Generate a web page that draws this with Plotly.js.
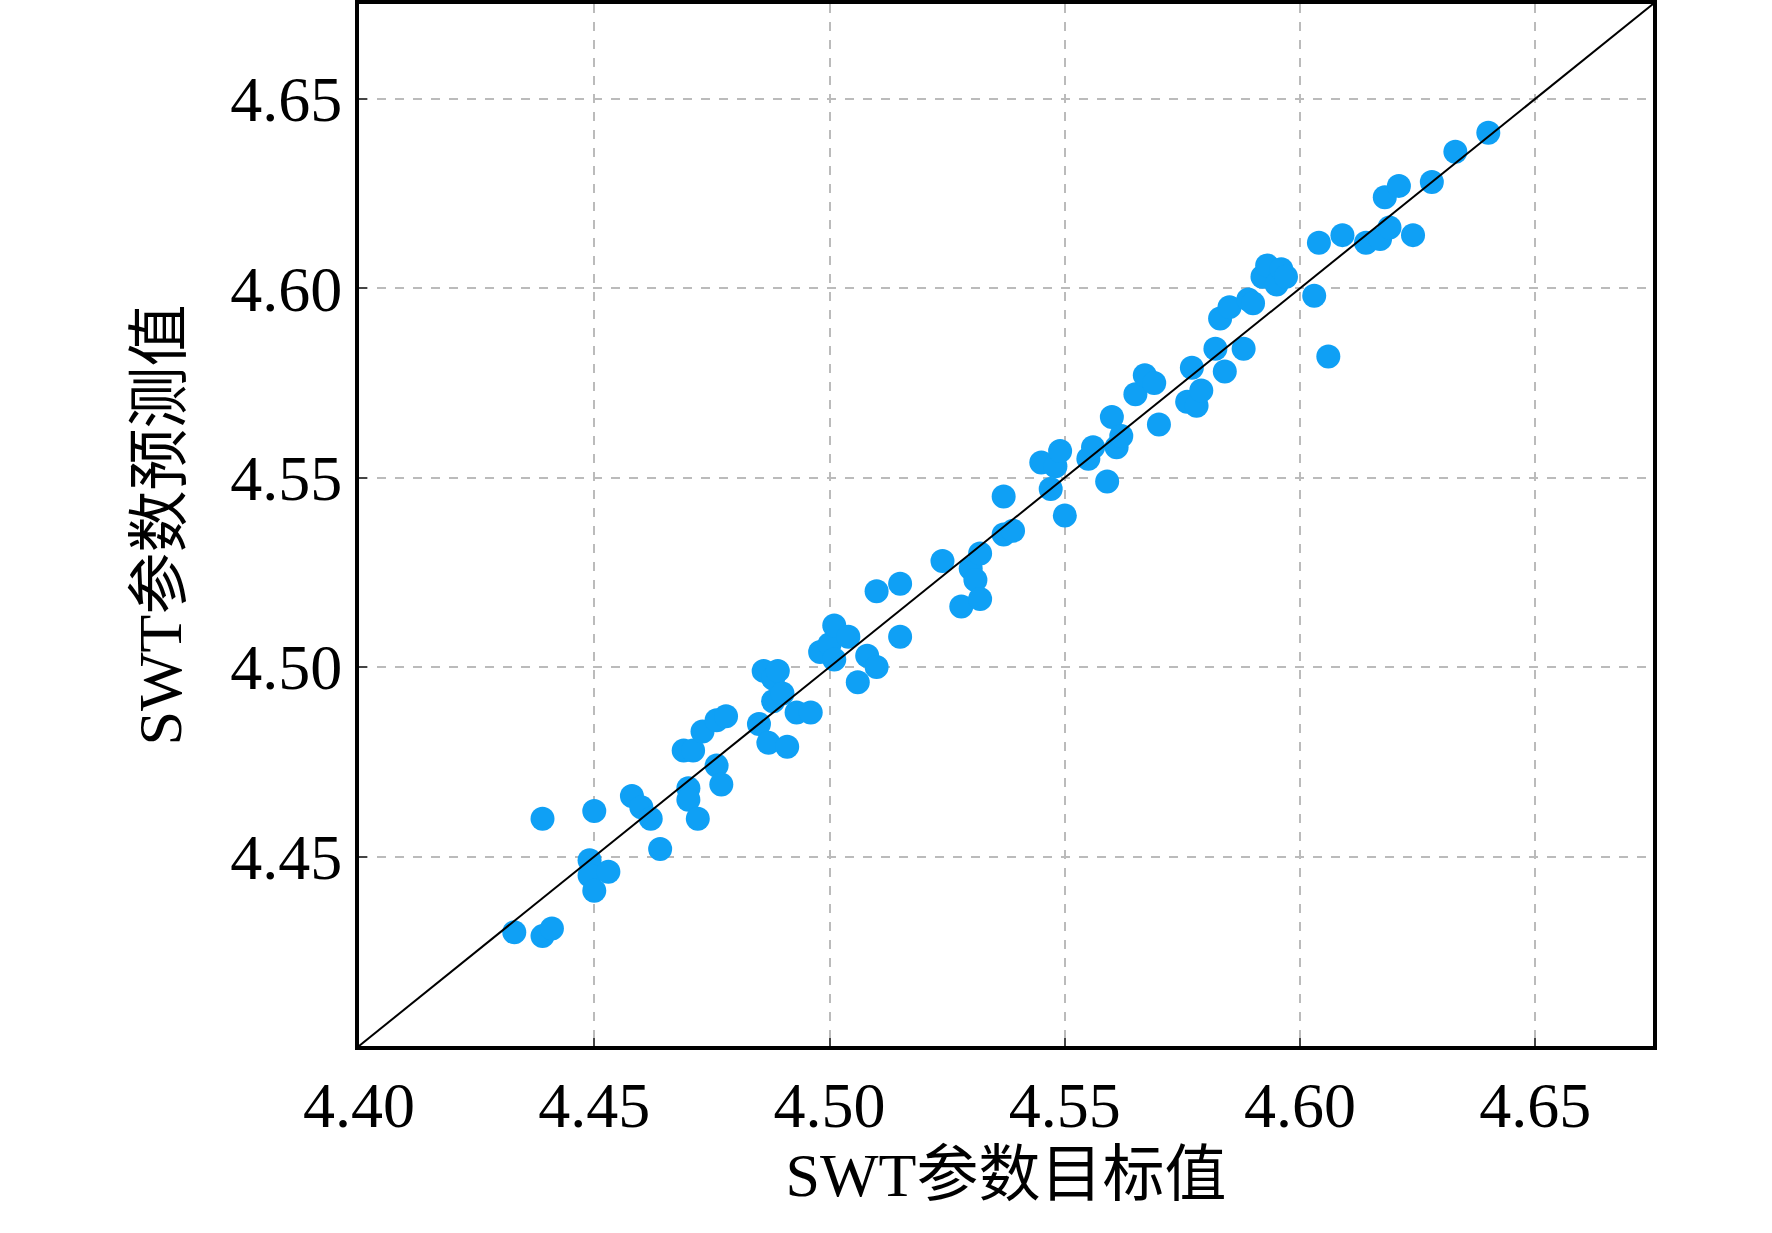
<!DOCTYPE html><html><head><meta charset="utf-8"><script src="https://cdn.plot.ly/plotly-3.0.1.min.js"></script></head><body style="margin:0"><div id="c" style="width:1772px;height:1233px"></div><script>
const xTarget=[4.433,4.439,4.441,4.439,4.450,4.449,4.449,4.450,4.453,4.458,4.460,4.462,4.464,4.469,4.471,4.470,4.470,4.472,4.473,4.476,4.477,4.476,4.478,4.485,4.486,4.488,4.489,4.487,4.491,4.488,4.490,4.493,4.496,4.498,4.500,4.501,4.501,4.504,4.506,4.508,4.510,4.510,4.515,4.515,4.524,4.528,4.530,4.531,4.532,4.532,4.537,4.537,4.539,4.545,4.547,4.548,4.549,4.550,4.555,4.556,4.559,4.560,4.561,4.562,4.565,4.567,4.569,4.570,4.576,4.577,4.578,4.579,4.582,4.583,4.584,4.585,4.588,4.589,4.590,4.592,4.593,4.595,4.596,4.597,4.603,4.604,4.606,4.609,4.614,4.617,4.618,4.619,4.621,4.624,4.628,4.633,4.640];
const yPred=[4.430,4.429,4.431,4.460,4.462,4.449,4.445,4.441,4.446,4.466,4.463,4.460,4.452,4.478,4.478,4.468,4.465,4.460,4.483,4.474,4.469,4.486,4.487,4.485,4.499,4.497,4.499,4.480,4.479,4.491,4.493,4.488,4.488,4.504,4.506,4.511,4.502,4.508,4.496,4.503,4.500,4.520,4.522,4.508,4.528,4.516,4.526,4.523,4.530,4.518,4.545,4.535,4.536,4.554,4.547,4.553,4.557,4.540,4.555,4.558,4.549,4.566,4.558,4.561,4.572,4.577,4.575,4.564,4.570,4.579,4.569,4.573,4.584,4.592,4.578,4.595,4.584,4.597,4.596,4.603,4.606,4.601,4.605,4.603,4.598,4.612,4.582,4.614,4.612,4.613,4.624,4.616,4.627,4.614,4.628,4.636,4.641];
const lineXY=[4.40,4.675];
const tickVals=[4.40,4.45,4.50,4.55,4.60,4.65];
const tickText=['4.40','4.45','4.50','4.55','4.60','4.65'];
const ax={range:[4.40,4.675],tickvals:tickVals,ticktext:tickText,showline:true,mirror:true,linecolor:'#000',linewidth:4,ticks:'inside',ticklen:8,tickwidth:2,gridcolor:'#bbb',griddash:'dash',gridwidth:1.5,zeroline:false,tickfont:{size:64,family:'Liberation Serif',color:'#000'}};
Plotly.newPlot('c',[
{x:xTarget,y:yPred,mode:'markers',type:'scatter',marker:{size:24,color:'#0fa0f5'},cliponaxis:false},
{x:lineXY,y:lineXY,mode:'lines',line:{color:'#000',width:2}}
],{showlegend:false,plot_bgcolor:'#fff',paper_bgcolor:'#fff',margin:{l:359,r:119,t:4,b:187},
xaxis:Object.assign({},ax,{title:{text:'SWT参数目标值',font:{size:62,family:'Liberation Serif, Noto Sans CJK SC',color:'#000'},standoff:8}}),
yaxis:Object.assign({},ax,{tickvals:tickVals.slice(1),ticktext:tickText.slice(1),title:{text:'SWT参数预测值',font:{size:62,family:'Liberation Serif, Noto Sans CJK SC',color:'#000'},standoff:30}})
},{displayModeBar:false});
</script></body></html>
